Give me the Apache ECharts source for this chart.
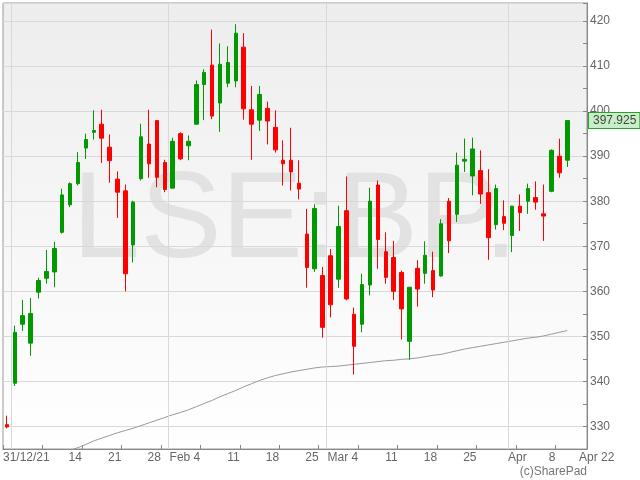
<!DOCTYPE html>
<html><head><meta charset="utf-8">
<script src="https://cdn.jsdelivr.net/npm/echarts@6/dist/echarts.min.js"></script>
<style>html,body{margin:0;padding:0;background:#fff}#c{width:640px;height:480px}</style>
</head><body><div id="c"></div><script>
const dates = ['2021-12-31','2022-01-04','2022-01-05','2022-01-06','2022-01-07','2022-01-10','2022-01-11','2022-01-12','2022-01-13','2022-01-14',
'2022-01-17','2022-01-18','2022-01-19','2022-01-20','2022-01-21','2022-01-24','2022-01-25','2022-01-26','2022-01-27','2022-01-28',
'2022-01-31','2022-02-01','2022-02-02','2022-02-03','2022-02-04','2022-02-07','2022-02-08','2022-02-09','2022-02-10','2022-02-11',
'2022-02-14','2022-02-15','2022-02-16','2022-02-17','2022-02-18','2022-02-21','2022-02-22','2022-02-23','2022-02-24','2022-02-25',
'2022-02-28','2022-03-01','2022-03-02','2022-03-03','2022-03-04','2022-03-07','2022-03-08','2022-03-09','2022-03-10','2022-03-11',
'2022-03-14','2022-03-15','2022-03-16','2022-03-17','2022-03-18','2022-03-21','2022-03-22','2022-03-23','2022-03-24','2022-03-25',
'2022-03-28','2022-03-29','2022-03-30','2022-03-31','2022-04-01','2022-04-04','2022-04-05','2022-04-06','2022-04-07','2022-04-08',
'2022-04-11','2022-04-12'];
const opens = [330.4,339.6,352.7,348.5,359.8,362.9,364.3,373.1,379.2,383.9,
391.8,395.3,397.1,392.0,384.9,382.3,370.3,385.0,392.7,397.9,
388.6,382.9,395.0,392.3,397.1,405.9,410.2,401.8,406.2,406.7,
414.2,400.3,398.0,400.6,396.4,389.1,389.1,384.0,372.7,365.0,
363.5,367.9,362.7,377.9,354.9,352.7,361.4,383.6,368.8,367.5,
364.2,348.9,365.1,364.0,364.6,363.4,380.0,377.1,388.9,385.6,
386.8,381.9,374.8,376.6,372.4,378.9,380.0,380.8,377.2,382.2,
390.0,389.1];
const closes = [329.9,350.9,354.6,355.1,362.4,364.4,369.5,381.4,383.9,388.6,
393.7,395.7,394.0,389.0,382.0,363.9,379.8,394.3,388.3,385.3,
382.6,393.3,389.4,393.3,405.9,408.6,398.9,410.4,410.8,417.3,
400.5,397.1,403.7,397.8,391.4,388.3,386.5,382.7,365.3,378.4,
352.0,357.0,374.4,358.3,347.8,361.5,380.0,371.5,363.1,360.0,
356.1,360.9,360.5,368.0,360.3,375.0,371.2,388.0,389.3,391.6,
381.6,371.9,382.8,375.1,378.9,377.5,382.8,379.8,376.7,391.3,
386.3,397.925];
const lows = [329.6,339.0,351.2,345.7,358.4,361.7,360.9,372.8,378.7,383.5,
389.4,393.7,388.5,384.1,376.3,360.0,366.4,384.6,385.2,383.1,
382.0,382.9,389.1,389.1,397.0,398.0,398.2,395.4,405.3,405.3,
398.1,389.2,395.6,392.6,390.8,383.5,382.4,380.4,360.8,364.3,
349.7,354.2,360.8,358.0,341.5,350.9,359.1,365.0,361.7,358.1,
349.3,344.8,356.6,361.7,358.7,363.3,368.5,375.4,386.5,381.3,
379.4,367.0,373.7,373.6,368.7,373.4,377.2,378.1,371.2,382.0,
385.2,387.6];
const highs = [332.4,352.4,358.1,358.5,363.0,369.2,371.0,382.8,384.2,390.9,
395.0,400.2,400.3,394.8,386.6,383.7,380.1,397.2,400.3,398.0,
389.2,394.1,395.3,394.6,406.8,409.3,418.1,415.0,414.4,419.3,
417.3,405.6,405.6,402.1,400.2,393.5,396.3,389.1,378.3,379.3,
365.4,369.4,379.0,385.5,356.4,363.9,383.0,384.6,373.1,371.2,
364.6,361.0,366.9,371.1,368.8,376.0,380.7,390.8,393.9,394.1,
391.3,387.1,383.7,380.2,379.0,381.5,383.9,384.4,383.7,391.5,
393.9,398.0];
const movingAvg = [319.8,320.5,321.2,321.9,322.6,323.2,323.7,324.2,324.7,325.3,
326.0,326.8,327.4,328.0,328.6,329.1,329.6,330.2,330.8,331.4,
332.0,332.6,333.1,333.7,334.4,335.1,335.8,336.6,337.3,338.0,
338.8,339.5,340.2,340.8,341.3,341.7,342.1,342.4,342.7,343.0,
343.2,343.3,343.4,343.6,343.8,344.0,344.2,344.4,344.6,344.7,
344.9,345.0,345.2,345.5,345.8,346.0,346.4,346.8,347.2,347.5,
347.8,348.1,348.4,348.7,349.0,349.3,349.6,349.8,350.1,350.5,
350.9,351.3];
const firstLabel = '31/12/21';
const weekLabels = ['14','21','28','Feb 4','11','18','25','Mar 4','11','18','25','','8'];
const monthLabel = 'Apr';
const futureLabel = 'Apr 22';
const lastPrice = 397.925;
const watermark = 'LSE:BP.';
const credit = '(c)SharePad';
const padSlots = 2;

const FONT = "'Liberation Sans', Arial, sans-serif";
const cats = dates.concat(Array.from({length: padSlots}, (_, k) => 'pad' + k));
const N = cats.length;
const candleData = dates.map((d, i) => [opens[i], closes[i], lows[i], highs[i]]);
const monthBounds = [];
for (let i = 1; i < dates.length; i++) {
  if (dates[i].slice(5, 7) !== dates[i - 1].slice(5, 7)) monthBounds.push(i);
}
const lastMonthBound = monthBounds[monthBounds.length - 1];

const chart = echarts.init(document.getElementById('c'), null, {renderer: 'canvas'});
chart.setOption({
  animation: false,
  backgroundColor: '#ffffff',
  grid: {
    left: 3, right: 53, top: 3, bottom: 31, show: true,
    outerBoundsMode: 'none', containLabel: false,
    borderColor: '#999', borderWidth: 1,
    backgroundColor: {type: 'linear', x: 0, y: 0, x2: 0, y2: 1,
      colorStops: [{offset: 0, color: '#ededed'}, {offset: 1, color: '#ffffff'}]}
  },
  graphic: [
    {type: 'text', z: 0, silent: true,
     style: {text: watermark, x: 295, y: 223, textAlign: 'center', textVerticalAlign: 'middle',
             fontSize: 122, fontFamily: FONT, fill: '#e2e2e2'}},
    {type: 'text', silent: true,
     style: {text: credit, x: 587, y: 472, textAlign: 'right', textVerticalAlign: 'middle',
             fontSize: 12, fontFamily: FONT, fill: '#777'}}
  ],
  xAxis: [
    {type: 'category', data: cats, show: false, position: 'bottom', boundaryGap: true},
    {type: 'value', min: 0, max: N, interval: 5, position: 'bottom',
     axisLine: {show: true, onZero: false, lineStyle: {color: '#888'}},
     axisTick: {show: true, inside: true, length: 4, lineStyle: {color: '#888'}},
     splitLine: {show: false},
     axisLabel: {align: 'right', margin: 3, color: '#666', fontSize: 12, fontFamily: FONT,
       formatter: v => weekLabels[v / 5 - 2] || ''}},
    {type: 'value', min: 0, max: N, interval: 1, position: 'bottom',
     axisLine: {show: false, onZero: false}, axisTick: {show: false}, splitLine: {show: false},
     axisLabel: {align: 'left', margin: 3, color: '#666', fontSize: 12, fontFamily: FONT,
       formatter: v => v === 0 ? firstLabel : (v === lastMonthBound ? monthLabel : (v === N - 1 ? futureLabel : ''))}}
  ],
  yAxis: [
    {type: 'value', position: 'right', min: 325, max: 424, splitNumber: 10,
     axisLine: {show: false}, axisTick: {show: false}, axisLabel: {show: false},
     splitLine: {show: true, lineStyle: {color: '#d9d9d9'}}},
    {type: 'value', position: 'right', min: 325, max: 424, interval: 5,
     axisLine: {show: true, onZero: false, lineStyle: {color: '#888'}},
     axisTick: {show: true, inside: true, length: 4, lineStyle: {color: '#888'}},
     splitLine: {show: false},
     axisLabel: {margin: 3, color: '#666', fontSize: 12, fontFamily: FONT,
       formatter: v => (v % 10 === 0 ? String(v) : '')}}
  ],
  series: [
    {type: 'line', xAxisIndex: 1, yAxisIndex: 1, data: [], silent: true, z: 1,
     markLine: {symbol: 'none', silent: true, animation: false, label: {show: false},
       lineStyle: {color: '#d9d9d9', type: 'solid', width: 1},
       data: monthBounds.map(u => ({xAxis: u}))}},
    {type: 'line', xAxisIndex: 0, yAxisIndex: 1, data: movingAvg, symbol: 'none', showSymbol: false,
     silent: true, z: 1, lineStyle: {color: '#999', width: 1}},
    {type: 'candlestick', xAxisIndex: 0, yAxisIndex: 1, data: candleData, barWidth: 4, z: 3,
     itemStyle: {color: '#009900', color0: '#ff0000', borderColor: '#009900', borderColor0: '#ff0000', borderWidth: 1},
     markLine: {symbol: 'none', silent: true, animation: false,
       lineStyle: {color: 'rgba(0,0,0,0)', width: 0},
       data: [{yAxis: lastPrice}],
       label: {show: true, position: 'end', distance: 2, formatter: () => lastPrice.toFixed(3),
         backgroundColor: '#c8eec8', borderColor: '#2e9e2e', borderWidth: 1, padding: [2, 3, 1, 4],
         color: '#444', fontSize: 12, fontFamily: FONT, opacity: 1}}}
  ]
});
</script></body></html>
